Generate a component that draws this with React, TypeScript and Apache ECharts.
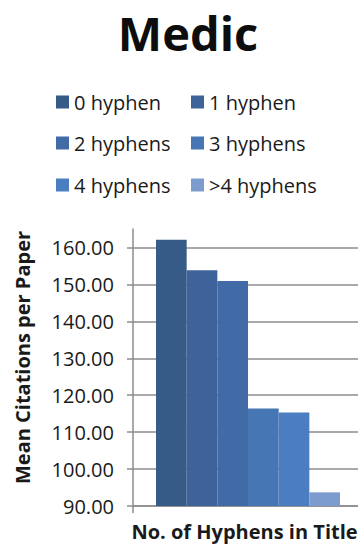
import React, { useEffect, useRef } from "react";
import * as echarts from "echarts";

const titleText = "Medic";
const seriesNames = ["0 hyphen", "1 hyphen", "2 hyphens", "3 hyphens", "4 hyphens", ">4 hyphens"];
const seriesValues = [162.1, 153.8, 150.9, 116.4, 115.3, 93.7];
const seriesColors = ["#375B87", "#3D639A", "#416BA6", "#4676B4", "#4B7EC1", "#7C9CCF"];
const categories = [""];
const yTicks = [90, 100, 110, 120, 130, 140, 150, 160];
const yAxisName = "Mean Citations per Paper";
const xAxisName = "No. of Hyphens in Title";

const FONT = "'Open Sans', 'DejaVu Sans', sans-serif";

export default function App() {
  const ref = useRef<HTMLDivElement>(null);
  useEffect(() => {
    if (!ref.current) return;
    const chart = echarts.init(ref.current, null, { renderer: "svg" });
    const legendRows = [0, 1, 2].map((r) => ({
      data: seriesNames.slice(r * 2, r * 2 + 2),
      left: 51,
      top: [86, 127, 169][r],
      orient: "horizontal",
      itemWidth: 13,
      itemHeight: 13,
      itemGap: 5,
      icon: "rect",
      selectedMode: false,
      textStyle: {
        fontFamily: FONT,
        fontSize: 20,
        color: "#1a1a1a",
        width: 112,
        lineHeight: 22,
      },
    }));
    chart.setOption({
      animation: false,
      backgroundColor: "#ffffff",
      title: {
        text: titleText,
        left: 183,
        textAlign: "center",
        top: 0,
        textStyle: { fontFamily: FONT, fontSize: 47, fontWeight: "bold", color: "#0d0d0d", lineHeight: 56 },
      },
      legend: legendRows,
      grid: { left: 133, right: -5, top: 229, bottom: 42, containLabel: false, outerBoundsMode: "none" },
      xAxis: {
        type: "category",
        data: categories,
        name: xAxisName,
        nameLocation: "middle",
        nameGap: 15,
        nameTextStyle: { fontFamily: FONT, fontSize: 20, fontWeight: "bold", color: "#1a1a1a", padding: [0, 7, 0, 0] },
        axisLine: { show: true, lineStyle: { color: "#8c8c8c", width: 1.5 } },
        axisTick: { show: true, length: 7, lineStyle: { color: "#8c8c8c", width: 1.5 } },
        axisLabel: { show: false },
      },
      yAxis: {
        type: "value",
        min: 90,
        max: 165,
        interval: 10,
        name: yAxisName,
        nameLocation: "middle",
        nameGap: 101,
        nameTextStyle: { fontFamily: FONT, fontSize: 20, fontWeight: "bold", color: "#1a1a1a", padding: [0, 0, 0, 20] },
        axisLine: { show: true, lineStyle: { color: "#8c8c8c", width: 1.5 } },
        axisTick: { show: true, length: 6, customValues: yTicks, lineStyle: { color: "#8c8c8c", width: 1.5 } },
        axisLabel: {
          customValues: yTicks,
          margin: 19,
          fontFamily: FONT,
          fontSize: 20,
          color: "#1a1a1a",
          formatter: (v: number) => v.toFixed(2),
        },
        splitLine: { show: true, showMaxLine: true, lineStyle: { color: "#8c8c8c", width: 1.5 } },
      },
      series: seriesNames.map((name, i) => ({
        name,
        type: "bar",
        data: [seriesValues[i]],
        barGap: "0%",
        barCategoryGap: "20%",
        itemStyle: { color: seriesColors[i] },
      })),
    });
    return () => chart.dispose();
  }, []);
  return <div ref={ref} style={{ width: 358, height: 548, position: "absolute", left: 0, top: 0 }} />;
}
